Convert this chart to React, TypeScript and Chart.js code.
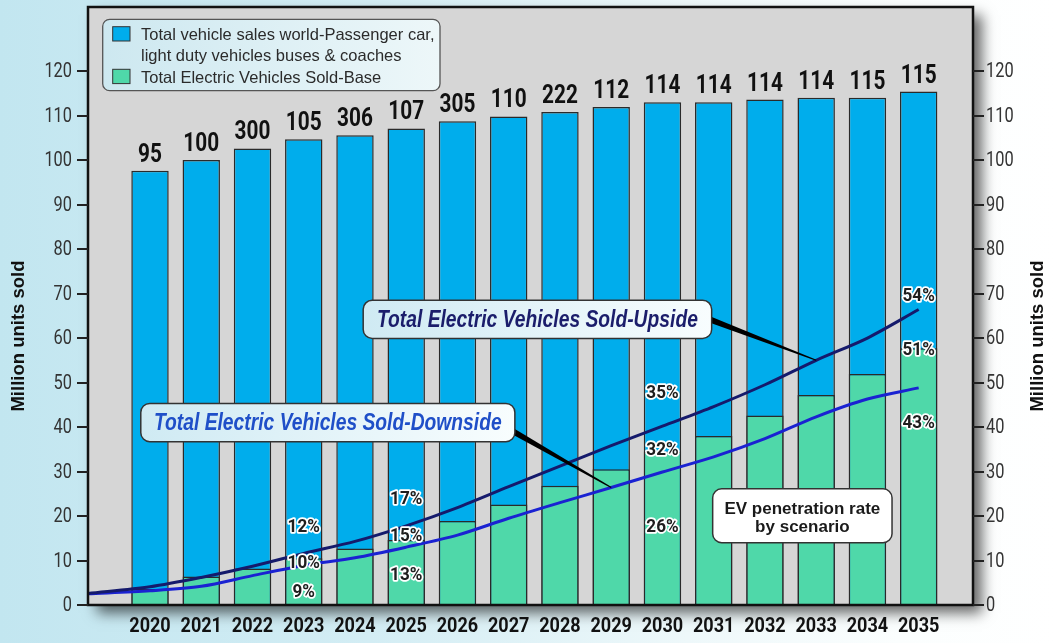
import React, { useEffect, useRef } from "react";
import { Chart, registerables } from "chart.js";

Chart.register(...registerables);

const DIN = 'Roboto, "Liberation Sans", sans-serif';
const SANS = '"Liberation Sans", Arial, sans-serif';

// ---- data ----
const years = [2020, 2021, 2022, 2023, 2024, 2025, 2026, 2027, 2028, 2029, 2030, 2031, 2032, 2033, 2034, 2035];
const totalSales = [97.6, 100, 102.6, 104.7, 105.6, 107.1, 108.7, 109.8, 110.8, 111.9, 113, 113, 113.6, 114, 114, 115.4];
const evBase = [3.6, 6.4, 8.2, 10.5, 12.7, 14.6, 18.9, 22.6, 26.8, 30.5, 34.5, 38.0, 42.6, 47.2, 51.9, 57.7];
const barLabels = ["95", "100", "300", "105", "306", "107", "305", "110", "222", "112", "114", "114", "114", "114", "115", "115"];

const lineYears = [2018.79, 2020, 2021, 2022, 2023, 2024, 2025, 2026, 2027, 2028, 2029, 2030, 2031, 2032, 2033, 2034, 2035];
const evUpside = [2.6, 4.1, 6.2, 8.7, 11.6, 14.3, 17.8, 21.9, 26.6, 31.2, 35.8, 40.2, 44.6, 49.5, 55.0, 60.0, 66.4];
const evDownside = [2.5, 3.2, 4.2, 6.6, 8.9, 10.6, 13.0, 15.7, 19.5, 23.0, 26.4, 29.9, 33.3, 37.4, 42.3, 46.3, 48.8];

const pctYears = [2023, 2025, 2030, 2035];
const upsidePct = ["12%", "17%", "35%", "54%"];
const basePct = ["10%", "15%", "32%", "51%"];
const downsidePct = ["9%", "13%", "26%", "43%"];
const upsidePctAt = [17.5, 23.6, 47.6, 69.4];
const basePctAt = [9.4, 15.3, 34.8, 57.1];
const downsidePctAt = [2.7, 6.7, 17.5, 40.7];

const yTicks = [0, 10, 20, 30, 40, 50, 60, 70, 80, 90, 100, 110, 120];

const legendTotal = ["Total vehicle sales world-Passenger car,", "light duty vehicles buses & coaches"];
const legendBase = ["Total Electric Vehicles Sold-Base"];
const axisTitle = "Million units sold";
const noteLines = ["EV penetration rate", "by scenario"];

const callouts = [
  { text: "Total Electric Vehicles Sold-Upside", color: "#1b1d6b", box: [2024.16, 68.5, 2030.96, 59.9], anchorFrac: 0.48, series: evUpside, targetYear: 2033 },
  { text: "Total Electric Vehicles Sold-Downside", color: "#1f4fc8", box: [2019.82, 45.3, 2027.12, 36.7], anchorFrac: 0.7, series: evDownside, targetYear: 2029 },
];
const noteBox = [2030.98, 26.1, 2034.48, 14.0];

const BLUE = "#00adec";
const GREEN = "#4fd8a9";

function squeezeText(ctx, text, x, y, sx, halo) {
  const w = ctx.measureText(text).width * sx;
  if (halo) {
    ctx.save();
    ctx.lineJoin = "round";
    ctx.strokeStyle = "#ffffff";
    ctx.lineWidth = 3.5;
    ctx.strokeText(text, x, y, w);
    ctx.restore();
  }
  ctx.fillText(text, x, y, w);
}

function taper(ctx, x1, y1, x2, y2, w1, w2) {
  const dx = x2 - x1, dy = y2 - y1;
  const len = Math.hypot(dx, dy);
  const nx = -dy / len, ny = dx / len;
  ctx.beginPath();
  ctx.moveTo(x1 + (nx * w1) / 2, y1 + (ny * w1) / 2);
  ctx.lineTo(x2 + (nx * w2) / 2, y2 + (ny * w2) / 2);
  ctx.lineTo(x2 - (nx * w2) / 2, y2 - (ny * w2) / 2);
  ctx.lineTo(x1 - (nx * w1) / 2, y1 - (ny * w1) / 2);
  ctx.closePath();
  ctx.fill();
}

const decorPlugin = {
  id: "decor",
  beforeDraw(chart) {
    const { ctx, chartArea: a } = chart;
    ctx.save();
    ctx.shadowColor = "rgba(0,0,0,0.6)";
    ctx.shadowBlur = 13;
    ctx.shadowOffsetX = 9;
    ctx.shadowOffsetY = 8;
    ctx.fillStyle = "#d6d6d6";
    ctx.fillRect(a.left, a.top, a.right - a.left, a.bottom - a.top);
    ctx.restore();
  },
  afterDatasetsDraw(chart) {
    const { ctx, chartArea: a } = chart;
    const xs = chart.scales.x;
    const ys = chart.scales.y;

    // frame
    ctx.save();
    ctx.strokeStyle = "#111";
    ctx.lineWidth = 2.5;
    ctx.strokeRect(a.left, a.top, a.right - a.left, a.bottom - a.top);
    ctx.restore();

    // value labels above total bars
    const meta = chart.getDatasetMeta(0);
    ctx.save();
    ctx.font = `bold 26px ${DIN}`;
    ctx.textAlign = "center";
    ctx.textBaseline = "alphabetic";
    ctx.fillStyle = "#111";
    meta.data.forEach((el, i) => {
      squeezeText(ctx, barLabels[i], el.x, el.y - 9, 0.8, false);
    });
    ctx.restore();

    // callouts
    callouts.forEach((c) => {
      const x0 = xs.getPixelForValue(c.box[0]);
      const y0 = ys.getPixelForValue(c.box[1]);
      const x1 = xs.getPixelForValue(c.box[2]);
      const y1 = ys.getPixelForValue(c.box[3]);
      const ti = lineYears.indexOf(c.targetYear);
      const tx = xs.getPixelForValue(c.targetYear);
      const ty = ys.getPixelForValue(c.series[ti]);
      const sy = y0 + (y1 - y0) * c.anchorFrac;
      ctx.save();
      ctx.fillStyle = "#000";
      taper(ctx, x1 - 4, sy, tx, ty, 6, 1.2);
      const g = ctx.createLinearGradient(x0, 0, x1, 0);
      g.addColorStop(0, "#cfeaf3");
      g.addColorStop(1, "#f8fdfe");
      ctx.beginPath();
      ctx.roundRect(x0, y0, x1 - x0, y1 - y0, 9);
      ctx.fillStyle = g;
      ctx.fill();
      ctx.strokeStyle = "#333";
      ctx.lineWidth = 1.5;
      ctx.stroke();
      ctx.font = `italic bold 23.5px ${SANS}`;
      ctx.textAlign = "center";
      ctx.textBaseline = "middle";
      ctx.fillStyle = c.color;
      squeezeText(ctx, c.text, (x0 + x1) / 2, (y0 + y1) / 2 + 1, 0.82, false);
      ctx.restore();
    });

    // penetration percentages
    ctx.save();
    ctx.font = `bold 18px ${DIN}`;
    ctx.textAlign = "center";
    ctx.textBaseline = "middle";
    ctx.fillStyle = "#1e1e1e";
    pctYears.forEach((yr, i) => {
      const x = xs.getPixelForValue(yr);
      squeezeText(ctx, upsidePct[i], x, ys.getPixelForValue(upsidePctAt[i]), 0.95, true);
      squeezeText(ctx, basePct[i], x, ys.getPixelForValue(basePctAt[i]), 0.95, true);
      squeezeText(ctx, downsidePct[i], x, ys.getPixelForValue(downsidePctAt[i]), 0.95, true);
    });
    ctx.restore();

    // note box
    {
      const x0 = xs.getPixelForValue(noteBox[0]);
      const y0 = ys.getPixelForValue(noteBox[1]);
      const x1 = xs.getPixelForValue(noteBox[2]);
      const y1 = ys.getPixelForValue(noteBox[3]);
      ctx.save();
      ctx.beginPath();
      ctx.roundRect(x0, y0, x1 - x0, y1 - y0, 9);
      ctx.fillStyle = "#ffffff";
      ctx.fill();
      ctx.strokeStyle = "#333";
      ctx.lineWidth = 1.5;
      ctx.stroke();
      ctx.font = `bold 17px ${SANS}`;
      ctx.textAlign = "center";
      ctx.textBaseline = "alphabetic";
      ctx.fillStyle = "#1a1a1a";
      const cx = (x0 + x1) / 2;
      ctx.fillText(noteLines[0], cx, y0 + 25);
      ctx.fillText(noteLines[1], cx, y0 + 43.5);
      ctx.restore();
    }

    // legend
    {
      const lx = a.left + 14.7, ly = a.top + 12.3, lw = 337.3, lh = 71.4;
      ctx.save();
      const g = ctx.createLinearGradient(lx, 0, lx + lw, 0);
      g.addColorStop(0, "#cde8f0");
      g.addColorStop(1, "#edf7f9");
      ctx.beginPath();
      ctx.roundRect(lx, ly, lw, lh, 7);
      ctx.fillStyle = g;
      ctx.fill();
      ctx.strokeStyle = "#555";
      ctx.lineWidth = 1.3;
      ctx.stroke();
      const items = [
        { color: BLUE, lines: legendTotal },
        { color: GREEN, lines: legendBase },
      ];
      let base = ly + 20.7;
      ctx.font = `16.5px ${SANS}`;
      ctx.textAlign = "left";
      ctx.textBaseline = "alphabetic";
      items.forEach((it) => {
        ctx.fillStyle = it.color;
        ctx.fillRect(lx + 10, base - 13.3, 17.3, 14.3);
        ctx.strokeStyle = "#333";
        ctx.lineWidth = 1;
        ctx.strokeRect(lx + 10, base - 13.3, 17.3, 14.3);
        ctx.fillStyle = "#2b2b2b";
        it.lines.forEach((ln) => {
          ctx.fillText(ln, lx + 38.3, base);
          base += 21.3;
        });
      });
      ctx.restore();
    }
  },
  afterDraw(chart) {
    const { ctx, chartArea: a } = chart;
    const xs = chart.scales.x;

    // y tick marks and labels (both sides), condensed
    ctx.save();
    ctx.font = `21px ${DIN}`;
    ctx.textBaseline = "middle";
    ["y", "y2"].forEach((id) => {
      const s = chart.scales[id];
      const left = s.position === "left";
      ctx.textAlign = left ? "right" : "left";
      const x = left ? s.right - 16 : s.left + 13;
      s.ticks.forEach((t) => {
        const py = Math.round(s.getPixelForValue(t.value));
        ctx.strokeStyle = "#222";
        ctx.lineWidth = 2;
        ctx.beginPath();
        if (left) {
          ctx.moveTo(s.right - 11, py);
          ctx.lineTo(s.right, py);
        } else {
          ctx.moveTo(s.left, py);
          ctx.lineTo(s.left + 11, py);
        }
        ctx.stroke();
        ctx.fillStyle = "#333";
        squeezeText(ctx, String(t.value), x, py + 1, 0.78, false);
      });
    });
    ctx.restore();

    // x tick labels, bold condensed
    ctx.save();
    ctx.font = `bold 21px ${DIN}`;
    ctx.fillStyle = "#111";
    ctx.textAlign = "center";
    ctx.textBaseline = "alphabetic";
    xs.ticks.forEach((t) => {
      squeezeText(ctx, String(t.value), xs.getPixelForValue(t.value), a.bottom + 27, 0.86, false);
    });
    ctx.restore();

    // axis titles
    const cy = (a.top + a.bottom) / 2 + 30;
    [19, 1038].forEach((tx) => {
      ctx.save();
      ctx.font = `bold 18.5px ${SANS}`;
      ctx.fillStyle = "#111";
      ctx.textAlign = "center";
      ctx.textBaseline = "middle";
      ctx.translate(tx, cy);
      ctx.rotate(-Math.PI / 2);
      ctx.fillText(axisTitle, 0, 0);
      ctx.restore();
    });
  },
};

function yAxis(position, width) {
  return {
    type: "linear",
    position,
    min: 0,
    max: 134.4,
    afterBuildTicks: (s) => {
      s.ticks = yTicks.map((v) => ({ value: v }));
    },
    afterFit: (s) => {
      s.width = width;
      s.paddingTop = 0;
      s.paddingBottom = 0;
    },
    ticks: { display: false },
    grid: { display: false },
    border: { display: false },
  };
}

export default function App() {
  const ref = useRef(null);
  useEffect(() => {
    const chart = new Chart(ref.current, {
      type: "bar",
      data: {
        datasets: [
          {
            type: "bar",
            label: legendTotal.join(" "),
            data: years.map((x, i) => ({ x, y: totalSales[i] })),
            backgroundColor: BLUE,
            borderColor: "#2a2a2a",
            borderWidth: 1.5,
            barPercentage: 0.73,
            categoryPercentage: 1,
            grouped: false,
            order: 4,
          },
          {
            type: "bar",
            label: legendBase[0],
            data: years.map((x, i) => ({ x, y: evBase[i] })),
            backgroundColor: GREEN,
            borderColor: "#2a2a2a",
            borderWidth: 1.5,
            barPercentage: 0.73,
            categoryPercentage: 1,
            grouped: false,
            order: 3,
          },
          {
            type: "line",
            label: "Total Electric Vehicles Sold-Upside",
            data: lineYears.map((x, i) => ({ x, y: evUpside[i] })),
            borderColor: "#151a6c",
            borderWidth: 3,
            pointRadius: 0,
            tension: 0.3,
            fill: false,
            order: 1,
          },
          {
            type: "line",
            label: "Total Electric Vehicles Sold-Downside",
            data: lineYears.map((x, i) => ({ x, y: evDownside[i] })),
            borderColor: "#1a22d2",
            borderWidth: 3,
            pointRadius: 0,
            tension: 0.3,
            fill: false,
            order: 2,
          },
        ],
      },
      options: {
        responsive: false,
        animation: false,
        layout: { padding: { top: 7, left: 0, right: 0, bottom: 0 } },
        plugins: { legend: { display: false }, tooltip: { enabled: false } },
        scales: {
          x: {
            type: "linear",
            offset: false,
            min: 2018.79,
            max: 2036.06,
            afterBuildTicks: (s) => {
              s.ticks = years.map((v) => ({ value: v }));
            },
            afterFit: (s) => {
              s.height = 38;
              s.paddingLeft = 0;
              s.paddingRight = 0;
            },
            ticks: { display: false },
            grid: { display: false },
            border: { display: false },
          },
          y: yAxis("left", 88),
          y2: yAxis("right", 84),
        },
      },
      plugins: [decorPlugin],
    });
    return () => chart.destroy();
  }, []);

  return (
    <div
      style={{
        position: "fixed",
        left: 0,
        top: 0,
        width: 1057,
        height: 643,
        background: "linear-gradient(90deg, #c2e6f0 0%, #d3edf4 35%, #eef8fa 65%, #fbfefe 85%, #ffffff 100%)",
      }}
    >
      <canvas ref={ref} width={1057} height={643} style={{ display: "block", width: 1057, height: 643 }} />
    </div>
  );
}
